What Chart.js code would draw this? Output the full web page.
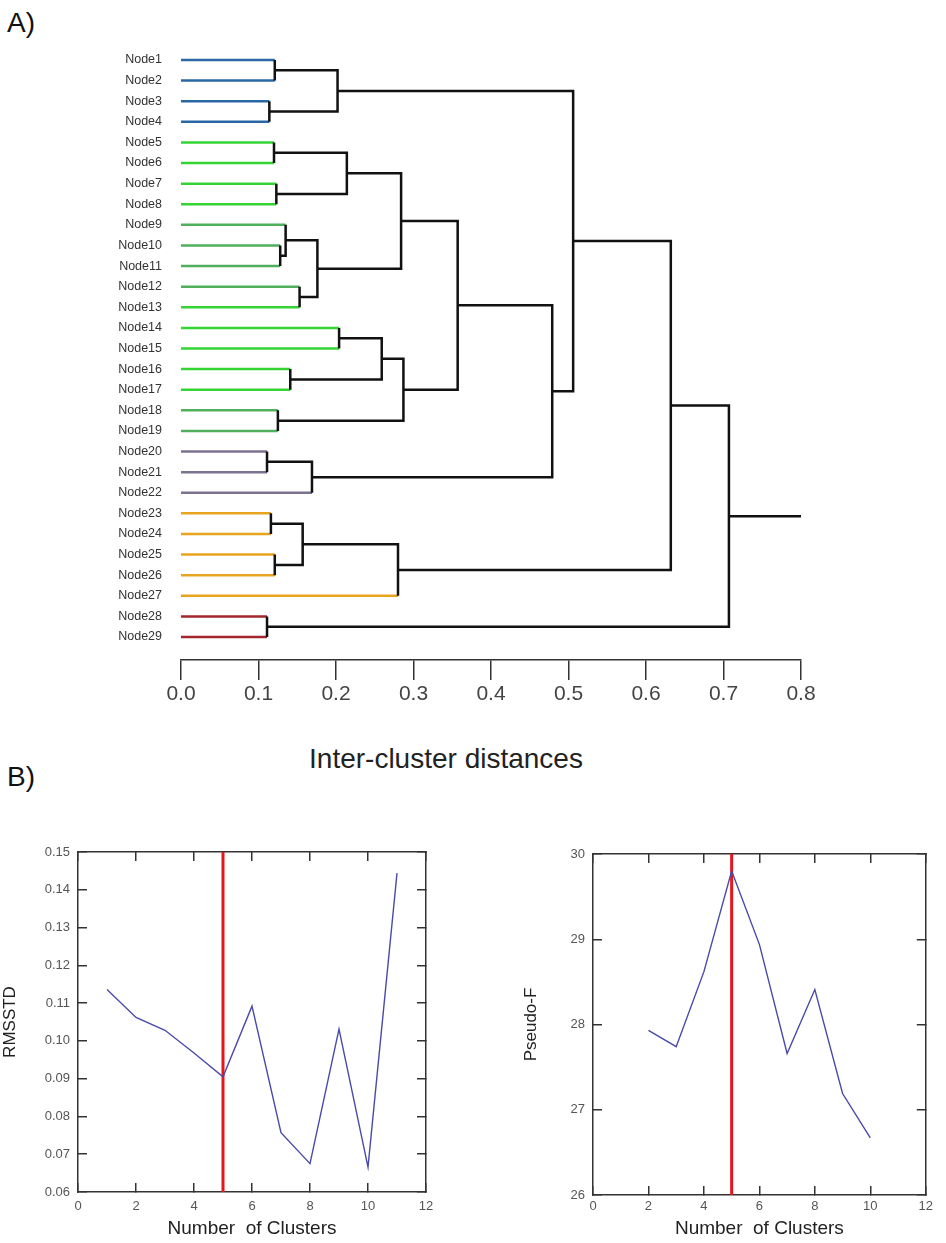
<!DOCTYPE html>
<html lang="en">
<head>
    <meta charset="UTF-8">
    <title>Dendrogram and cluster criteria</title>
    <script src="https://cdn.jsdelivr.net/npm/chart.js"></script>
    <style>
        html, body {
            margin: 0;
            padding: 0;
            background: #fff;
        }
        .page {
            position: relative;
            width: 946px;
            height: 1243px;
            overflow: hidden;
            font-family: "Liberation Sans", Arial, sans-serif;
            color: #111;
        }
        .page canvas { position: absolute; }
        #dendro { left: 0; top: 0; }
        #rmsstd { left: 0; top: 827px; }
        #pseudoF { left: 480px; top: 829px; }
        .panel {
            position: absolute;
            left: 7px;
            font-size: 28px;
            line-height: 28px;
        }
        .dist-title {
            position: absolute;
            left: 246px;
            width: 400px;
            top: 744px;
            text-align: center;
            font-family: "Liberation Sans Narrow", "Liberation Sans", Arial, sans-serif;
            font-size: 28px;
            line-height: 30px;
            color: #222;
        }
    </style>
</head>
<body>
    <div class="page">
        <div class="panel" style="top: 9px;">A)</div>
        <canvas id="dendro" width="946" height="720"></canvas>
        <div class="dist-title">Inter-cluster distances</div>
        <div class="panel" style="top: 763px;">B)</div>
        <canvas id="rmsstd" width="470" height="413"></canvas>
        <canvas id="pseudoF" width="466" height="413"></canvas>
    </div>
    <script>
        // ---- data ----
        const nodeNames = ['Node1', 'Node2', 'Node3', 'Node4', 'Node5', 'Node6', 'Node7', 'Node8', 'Node9', 'Node10',
            'Node11', 'Node12', 'Node13', 'Node14', 'Node15', 'Node16', 'Node17', 'Node18', 'Node19', 'Node20',
            'Node21', 'Node22', 'Node23', 'Node24', 'Node25', 'Node26', 'Node27', 'Node28', 'Node29'];

        // linkage: [child a, child b, distance]; ids >= 29 are earlier merges (29 = first row)
        const merges = [
            [0, 1, 0.121],    // 29
            [2, 3, 0.114],    // 30
            [29, 30, 0.202],  // 31
            [4, 5, 0.120],    // 32
            [6, 7, 0.123],    // 33
            [32, 33, 0.214],  // 34
            [9, 10, 0.128],   // 35
            [8, 35, 0.135],   // 36
            [11, 12, 0.153],  // 37
            [36, 37, 0.176],  // 38
            [34, 38, 0.284],  // 39
            [13, 14, 0.204],  // 40
            [15, 16, 0.141],  // 41
            [40, 41, 0.259],  // 42
            [17, 18, 0.125],  // 43
            [42, 43, 0.287],  // 44
            [39, 44, 0.357],  // 45
            [19, 20, 0.111],  // 46
            [46, 21, 0.169],  // 47
            [45, 47, 0.479],  // 48
            [31, 48, 0.506],  // 49
            [22, 23, 0.116],  // 50
            [24, 25, 0.121],  // 51
            [50, 51, 0.157],  // 52
            [52, 26, 0.280],  // 53
            [49, 53, 0.632],  // 54
            [27, 28, 0.111],  // 55
            [54, 55, 0.707]   // 56
        ];
        const rootEnd = 0.8;
        const distanceTicks = [0, 0.1, 0.2, 0.3, 0.4, 0.5, 0.6, 0.7, 0.8];

        const clusterTicks = [0, 2, 4, 6, 8, 10, 12];
        const chosenK = 5;

        const rmsstdK = [1, 2, 3, 4, 5, 6, 7, 8, 9, 10, 11];
        const rmsstdValues = [0.1136, 0.1062, 0.1028, 0.0968, 0.0905, 0.1092, 0.0757, 0.0675, 0.1031, 0.0666, 0.1444];
        const rmsstdTicks = [0.06, 0.07, 0.08, 0.09, 0.10, 0.11, 0.12, 0.13, 0.14, 0.15];

        const pseudoFK = [2, 3, 4, 5, 6, 7, 8, 9, 10];
        const pseudoFValues = [27.93, 27.74, 28.62, 29.80, 28.94, 27.66, 28.41, 27.19, 26.67];
        const pseudoFTicks = [26, 27, 28, 29, 30];

        // ---- styles ----
        const BLUE = '#2a68a5', GREEN = '#35d435', DKGREEN = '#4faf5c', GREY = '#7c7290', ORANGE = '#e8a41f', RED = '#a3262c';
        const leafColors = [BLUE, BLUE, BLUE, BLUE, GREEN, GREEN, GREEN, GREEN, DKGREEN, DKGREEN, DKGREEN, DKGREEN,
            GREEN, GREEN, GREEN, GREEN, GREEN, DKGREEN, DKGREEN, GREY, GREY, GREY, ORANGE, ORANGE, ORANGE, ORANGE, ORANGE, RED, RED];
        const SANS = '"Liberation Sans", Arial, sans-serif';
        const NARROW = '"Liberation Sans Narrow", "Liberation Sans", Arial, sans-serif';

        function setTicks(values) {
            return scale => { scale.ticks = values.map(v => ({ value: v })); };
        }

        function segment(points, color) {
            return {
                data: points,
                borderColor: color,
                borderWidth: 2.5,
                borderJoinStyle: 'miter',
                borderCapStyle: 'butt',
                pointRadius: 0,
                showLine: true,
                fill: false,
                tension: 0
            };
        }

        function buildDendrogram() {
            const n = nodeNames.length;
            const pos = nodeNames.map((_, i) => ({ x: 0, y: i + 1 }));
            const parentDist = new Array(n).fill(0);
            const black = [];
            merges.forEach(([a, b, h]) => {
                const A = pos[a], B = pos[b];
                const path = [];
                if (a >= n) path.push({ x: A.x, y: A.y });
                path.push({ x: h, y: A.y }, { x: h, y: B.y });
                if (b >= n) path.push({ x: B.x, y: B.y });
                if (a < n) parentDist[a] = h;
                if (b < n) parentDist[b] = h;
                black.push(segment(path, '#111'));
                pos.push({ x: h, y: (A.y + B.y) / 2 });
            });
            const root = pos[pos.length - 1];
            black.push(segment([{ x: root.x, y: root.y }, { x: rootEnd, y: root.y }], '#111'));
            const leaves = nodeNames.map((_, i) =>
                segment([{ x: 0, y: i + 1 }, { x: parentDist[i], y: i + 1 }], leafColors[i]));
            return black.concat(leaves);
        }

        new Chart(document.getElementById('dendro'), {
            type: 'scatter',
            data: { datasets: buildDendrogram() },
            options: {
                responsive: false,
                animation: false,
                layout: { padding: { left: 0, right: 145, top: 30, bottom: 0 } },
                plugins: { legend: { display: false }, tooltip: { enabled: false } },
                scales: {
                    x: {
                        type: 'linear',
                        min: distanceTicks[0],
                        max: distanceTicks[distanceTicks.length - 1],
                        afterBuildTicks: setTicks(distanceTicks),
                        afterFit: s => { s.height = 60; },
                        border: { display: true, color: '#333', width: 1.5 },
                        grid: { drawOnChartArea: false, drawTicks: true, tickLength: 20, color: '#333', lineWidth: 1.5 },
                        ticks: {
                            callback: v => v.toFixed(1),
                            padding: 2,
                            color: '#444',
                            font: { family: NARROW, size: 21 }
                        }
                    },
                    y: {
                        type: 'linear',
                        reverse: true,
                        min: -0.456,
                        max: 30.116,
                        afterBuildTicks: scale => { scale.ticks = nodeNames.map((_, i) => ({ value: i + 1 })); },
                        afterFit: s => { s.width = 181; },
                        border: { display: false },
                        grid: { display: false },
                        ticks: {
                            autoSkip: false,
                            callback: v => nodeNames[v - 1],
                            padding: 11,
                            color: '#333',
                            font: { family: SANS, size: 12.5 }
                        }
                    }
                }
            }
        });

        // RMSSTD / Pseudo-F panels
        function criterionChart(id, ks, values, yTicks, opts) {
            const frame = { display: true, color: '#333', width: 1.5 };
            const inward = { drawOnChartArea: false, drawTicks: true, tickLength: -9, color: '#333', lineWidth: 1.5 };
            const xMin = clusterTicks[0], xMax = clusterTicks[clusterTicks.length - 1];
            const yMin = yTicks[0], yMax = yTicks[yTicks.length - 1];
            return new Chart(document.getElementById(id), {
                type: 'scatter',
                data: {
                    datasets: [
                        {
                            data: ks.map((k, i) => ({ x: k, y: values[i] })),
                            showLine: true,
                            borderColor: '#4a4aaa',
                            borderWidth: 1.4,
                            pointRadius: 0,
                            tension: 0,
                            xAxisID: 'x',
                            yAxisID: 'y'
                        },
                        {
                            data: [{ x: chosenK, y: yMin }, { x: chosenK, y: yMax }],
                            showLine: true,
                            borderColor: '#e5161c',
                            borderWidth: 3,
                            pointRadius: 0,
                            xAxisID: 'x',
                            yAxisID: 'y'
                        }
                    ]
                },
                options: {
                    responsive: false,
                    animation: false,
                    layout: { padding: 0 },
                    plugins: { legend: { display: false }, tooltip: { enabled: false } },
                    scales: {
                        x: {
                            type: 'linear', position: 'bottom', min: xMin, max: xMax,
                            afterBuildTicks: setTicks(clusterTicks),
                            afterFit: s => { s.height = opts.bottom; },
                            border: frame, grid: inward,
                            ticks: { padding: opts.xPad, color: '#555', font: { family: SANS, size: 13 } },
                            title: {
                                display: true, text: 'Number  of Clusters', color: '#222',
                                font: { family: SANS, size: 19 }, padding: { top: 0, bottom: opts.titleBottom }
                            }
                        },
                        x2: {
                            type: 'linear', position: 'top', min: xMin, max: xMax,
                            afterBuildTicks: setTicks(clusterTicks),
                            afterFit: s => { s.height = opts.top; },
                            border: frame, grid: inward,
                            ticks: { display: false }
                        },
                        y: {
                            type: 'linear', position: 'left', min: yMin, max: yMax,
                            afterBuildTicks: setTicks(yTicks),
                            afterFit: s => { s.width = opts.left; },
                            border: frame, grid: inward,
                            ticks: { padding: 17, color: '#555', callback: opts.format, font: { family: SANS, size: 13 } },
                            title: {
                                display: true, text: opts.title, color: '#222',
                                font: { family: SANS, size: 17 }, padding: { top: opts.titlePad, bottom: 0 }
                            }
                        },
                        y2: {
                            type: 'linear', position: 'right', min: yMin, max: yMax,
                            afterBuildTicks: setTicks(yTicks),
                            afterFit: s => { s.width = opts.right; },
                            border: frame, grid: inward,
                            ticks: { display: false }
                        }
                    }
                }
            });
        }

        criterionChart('rmsstd', rmsstdK, rmsstdValues, rmsstdTicks, {
            left: 78, right: 44, top: 25, bottom: 48, xPad: 16, titleBottom: 0, title: 'RMSSTD', titlePad: 0,
            format: v => v.toFixed(2)
        });
        criterionChart('pseudoF', pseudoFK, pseudoFValues, pseudoFTicks, {
            left: 113, right: 6, top: 25, bottom: 47, xPad: 13, titleBottom: 2, title: 'Pseudo-F', titlePad: 41,
            format: v => String(v)
        });
    </script>
</body>
</html>
